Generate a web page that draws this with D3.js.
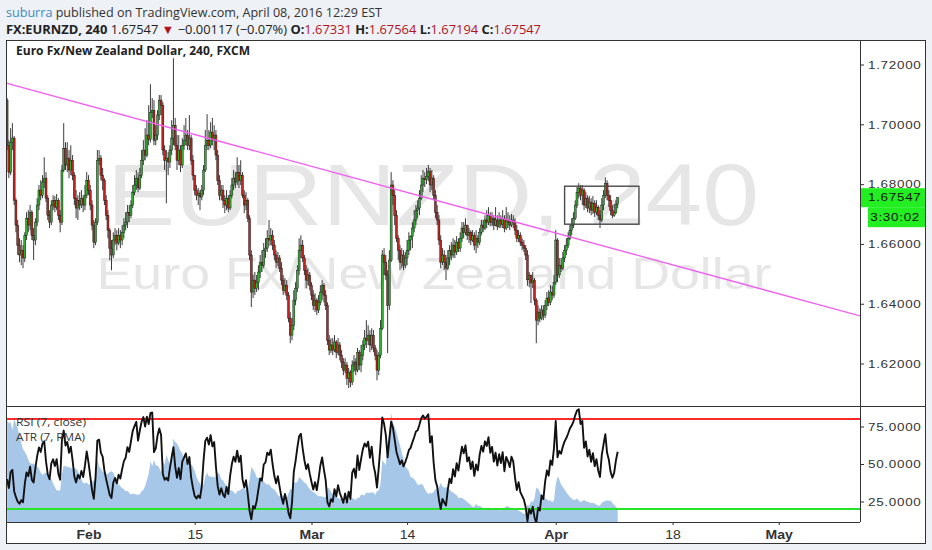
<!DOCTYPE html>
<html><head><meta charset="utf-8">
<script src="https://d3js.org/d3.v7.min.js"></script>
<style>
html,body{margin:0;padding:0;background:#eef1f5;overflow:hidden}
svg{display:block}
</style></head>
<body><svg id="chart" width="932" height="550"></svg>
<script>
// ---------------- DATA ----------------
const headerLine1 = [["suburra","#3a8cc4"],[" published on TradingView.com, April 08, 2016 12:29 EST","#333"]];
const headerLine2 = [["FX:EURNZD, 240","#222",true],[" 1.67547 ","#222"],["\u25BC","#b3141c"],[" \u22120.00117 (\u22120.07%) ","#222"],
  ["O:","#222",true],["1.67331","#b3141c"],[" H:","#222",true],["1.67564","#b3141c"],[" L:","#222",true],["1.67194","#b3141c"],[" C:","#222",true],["1.67547","#b3141c"]];
const chartTitle = "Euro Fx/New Zealand Dollar, 240, FXCM";
const watermark1 = "EURNZD, 240";
const watermark2 = "Euro Fx/New Zealand Dollar";
const legendRSI = "RSI (7, close)";
const legendATR = "ATR (7, RMA)";

const startDate = "2016-01-20";   // first trading day in view
const barsPerDay = 6;             // 240-minute bars
const firstBar = 2;               // data begins with the 3rd bar of the first day
const firstOpen = 1.7081;

const closes = [
1.6930,1.6840,1.6940,1.6954,
1.6746,1.6663,1.6596,1.6563,1.6579,1.6553,
1.6629,1.6686,1.6663,1.6706,1.6629,1.6613,
1.6673,1.6730,1.6780,1.6763,1.6807,1.6820,
1.6753,1.6696,1.6673,1.6730,1.6746,1.6723,
1.6746,1.6696,1.6673,1.6847,1.6920,1.6864,
1.6887,1.6847,1.6880,1.6830,1.6753,1.6720,
1.6746,1.6730,1.6753,1.6730,1.6763,1.6813,
1.6780,1.6730,1.6663,1.6606,1.6673,1.6880,
1.6887,1.6830,1.6813,1.6746,1.6696,1.6646,
1.6586,1.6563,1.6613,1.6629,1.6603,1.6629,
1.6613,1.6639,1.6663,1.6673,1.6706,1.6696,
1.6730,1.6773,1.6797,1.6820,1.6787,1.6830,
1.6880,1.6914,1.6897,1.6964,1.6950,1.7040,
1.7047,1.6947,1.6964,1.7031,1.7081,1.7064,
1.6914,1.6880,1.6887,1.6874,1.6914,1.6954,
1.6997,1.6930,1.6880,1.6914,1.6864,1.6930,
1.6947,1.6964,1.6930,1.6954,1.6880,1.6830,
1.6780,1.6763,1.6770,1.6757,1.6780,1.6847,
1.6930,1.6947,1.6930,1.6974,1.6947,1.6964,
1.6897,1.6813,1.6763,1.6780,1.6746,1.6730,
1.6753,1.6720,1.6763,1.6797,1.6820,1.6807,
1.6840,1.6813,1.6830,1.6763,1.6730,1.6746,
1.6686,1.6563,1.6439,1.6479,1.6452,1.6472,
1.6506,1.6539,1.6529,1.6579,1.6586,1.6619,
1.6613,1.6629,1.6596,1.6563,1.6539,1.6553,
1.6519,1.6479,1.6445,1.6462,1.6429,1.6352,
1.6295,1.6328,1.6412,1.6452,1.6512,1.6579,
1.6596,1.6553,1.6512,1.6479,1.6496,1.6462,
1.6429,1.6395,1.6412,1.6379,1.6405,1.6439,
1.6462,1.6429,1.6395,1.6278,1.6245,1.6262,
1.6245,1.6272,1.6238,1.6262,1.6228,1.6205,
1.6178,1.6195,1.6151,1.6171,1.6138,1.6195,
1.6205,1.6178,1.6238,1.6195,1.6228,1.6262,
1.6285,1.6278,1.6295,1.6262,1.6295,1.6252,
1.6228,1.6178,1.6228,1.6318,1.6563,1.6539,
1.6496,1.6395,1.6546,1.6797,1.6763,1.6696,
1.6619,1.6579,1.6539,1.6563,1.6529,1.6553,
1.6579,1.6613,1.6625,1.6653,1.6680,1.6713,
1.6720,1.6753,1.6797,1.6820,1.6815,1.6825,
1.6842,1.6797,1.6820,1.6763,1.6706,1.6680,
1.6613,1.6539,1.6563,1.6539,1.6519,1.6553,
1.6579,1.6563,1.6596,1.6573,1.6606,1.6586,
1.6619,1.6653,1.6639,1.6663,1.6629,1.6639,
1.6613,1.6629,1.6596,1.6619,1.6606,1.6639,
1.6663,1.6653,1.6680,1.6673,1.6696,1.6673,
1.6686,1.6663,1.6680,1.6659,1.6680,1.6666,
1.6686,1.6653,1.6680,1.6673,1.6663,1.6680,
1.6673,1.6646,1.6619,1.6629,1.6606,1.6596,
1.6586,1.6563,1.6480,1.6496,1.6470,1.6479,
1.6412,1.6345,1.6372,1.6352,1.6379,1.6362,
1.6395,1.6419,1.6405,1.6439,1.6429,1.6472,
1.6613,1.6496,1.6529,1.6519,1.6553,1.6579,
1.6596,1.6619,1.6646,1.6663,1.6686,1.6730,
1.6773,1.6787,1.6763,1.6780,1.6730,1.6753,
1.6720,1.6740,1.6713,1.6736,1.6706,1.6723,
1.6696,1.6680,1.6730,1.6763,1.6803,1.6763,
1.6746,1.6713,1.6696,1.6706,1.6733,1.67547];

const highs = [
1.7088,1.6947,1.6987,1.7004,
1.6961,1.6753,1.6680,1.6619,1.6613,1.6596,
1.6639,1.6706,1.6713,1.6730,1.6713,1.6653,
1.6686,1.6753,1.6797,1.6813,1.6830,1.6890,
1.6840,1.6763,1.6713,1.6746,1.6763,1.6760,
1.6767,1.6753,1.6713,1.6864,1.7004,1.6940,
1.6940,1.6914,1.6930,1.6897,1.6840,1.6780,
1.6763,1.6773,1.6780,1.6763,1.6797,1.6840,
1.6830,1.6797,1.6746,1.6680,1.6686,1.6914,
1.6914,1.6897,1.6854,1.6820,1.6763,1.6713,
1.6653,1.6613,1.6639,1.6653,1.6646,1.6653,
1.6646,1.6663,1.6686,1.6706,1.6730,1.6730,
1.6746,1.6797,1.6830,1.6847,1.6840,1.6854,
1.6914,1.6947,1.6987,1.7014,1.7064,1.7134,
1.7088,1.7081,1.6997,1.7047,1.7098,1.7098,
1.7074,1.6930,1.6914,1.6907,1.6930,1.7014,
1.7221,1.7021,1.6964,1.6964,1.6930,1.6954,
1.6997,1.7021,1.6981,1.7031,1.6964,1.6897,
1.6830,1.6797,1.6787,1.6780,1.6797,1.6864,
1.6981,1.7034,1.6981,1.7007,1.7021,1.6997,
1.6981,1.6914,1.6830,1.6797,1.6797,1.6763,
1.6780,1.6763,1.6780,1.6820,1.6847,1.6840,
1.6890,1.6864,1.6880,1.6840,1.6780,1.6773,
1.6753,1.6696,1.6579,1.6496,1.6506,1.6496,
1.6529,1.6563,1.6579,1.6603,1.6619,1.6646,
1.6680,1.6653,1.6646,1.6613,1.6579,1.6573,
1.6563,1.6539,1.6496,1.6486,1.6479,1.6439,
1.6372,1.6352,1.6445,1.6472,1.6529,1.6619,
1.6629,1.6613,1.6563,1.6529,1.6519,1.6506,
1.6472,1.6445,1.6435,1.6419,1.6429,1.6462,
1.6479,1.6469,1.6445,1.6405,1.6295,1.6285,
1.6285,1.6295,1.6278,1.6285,1.6272,1.6245,
1.6218,1.6218,1.6205,1.6185,1.6178,1.6211,
1.6228,1.6218,1.6252,1.6245,1.6262,1.6278,
1.6312,1.6345,1.6328,1.6312,1.6318,1.6312,
1.6262,1.6245,1.6238,1.6345,1.6579,1.6586,
1.6563,1.6512,1.6579,1.6840,1.6813,1.6780,
1.6713,1.6629,1.6596,1.6586,1.6579,1.6573,
1.6613,1.6639,1.6629,1.6673,1.6713,1.6730,
1.6746,1.6780,1.6830,1.6847,1.6840,1.6854,
1.6864,1.6854,1.6847,1.6830,1.6780,1.6730,
1.6696,1.6629,1.6586,1.6579,1.6563,1.6579,
1.6596,1.6606,1.6619,1.6613,1.6626,1.6619,
1.6639,1.6673,1.6673,1.6686,1.6663,1.6653,
1.6646,1.6646,1.6639,1.6646,1.6629,1.6653,
1.6680,1.6680,1.6696,1.6713,1.6723,1.6706,
1.6706,1.6696,1.6723,1.6696,1.6706,1.6696,
1.6713,1.6696,1.6723,1.6706,1.6696,1.6700,
1.6696,1.6686,1.6663,1.6646,1.6639,1.6619,
1.6613,1.6596,1.6579,1.6506,1.6496,1.6506,
1.6486,1.6419,1.6395,1.6385,1.6395,1.6395,
1.6412,1.6439,1.6445,1.6462,1.6459,1.6496,
1.6646,1.6619,1.6553,1.6553,1.6573,1.6596,
1.6619,1.6639,1.6663,1.6686,1.6706,1.6746,
1.6793,1.6803,1.6797,1.6797,1.6787,1.6773,
1.6763,1.6760,1.6753,1.6760,1.6746,1.6746,
1.6730,1.6713,1.6753,1.6780,1.6823,1.6813,
1.6780,1.6763,1.6730,1.6733,1.6746,1.67564];

const lows = [
1.6914,1.6820,1.6830,1.6914,
1.6730,1.6639,1.6563,1.6539,1.6529,1.6519,
1.6539,1.6613,1.6639,1.6646,1.6613,1.6546,
1.6596,1.6659,1.6713,1.6746,1.6753,1.6787,
1.6740,1.6680,1.6653,1.6663,1.6713,1.6706,
1.6713,1.6680,1.6639,1.6663,1.6840,1.6847,
1.6840,1.6820,1.6830,1.6813,1.6730,1.6686,
1.6680,1.6713,1.6720,1.6706,1.6713,1.6753,
1.6763,1.6713,1.6646,1.6586,1.6596,1.6663,
1.6864,1.6813,1.6780,1.6730,1.6680,1.6619,
1.6546,1.6512,1.6553,1.6596,1.6579,1.6596,
1.6586,1.6596,1.6619,1.6646,1.6653,1.6673,
1.6686,1.6720,1.6763,1.6780,1.6773,1.6780,
1.6820,1.6864,1.6880,1.6890,1.6930,1.6940,
1.7021,1.6930,1.6930,1.6947,1.7014,1.7031,
1.6897,1.6847,1.6736,1.6830,1.6854,1.6897,
1.6930,1.6914,1.6847,1.6864,1.6840,1.6854,
1.6914,1.6930,1.6914,1.6914,1.6864,1.6813,
1.6763,1.6746,1.6730,1.6713,1.6746,1.6763,
1.6840,1.6914,1.6914,1.6920,1.6930,1.6914,
1.6880,1.6797,1.6746,1.6746,1.6720,1.6703,
1.6713,1.6706,1.6713,1.6753,1.6780,1.6787,
1.6797,1.6787,1.6797,1.6753,1.6703,1.6713,
1.6673,1.6546,1.6389,1.6419,1.6429,1.6439,
1.6445,1.6486,1.6506,1.6519,1.6553,1.6573,
1.6593,1.6596,1.6579,1.6546,1.6519,1.6526,
1.6506,1.6462,1.6429,1.6435,1.6412,1.6338,
1.6268,1.6278,1.6312,1.6395,1.6439,1.6496,
1.6553,1.6539,1.6496,1.6452,1.6462,1.6445,
1.6412,1.6379,1.6372,1.6362,1.6369,1.6395,
1.6412,1.6405,1.6379,1.6262,1.6228,1.6235,
1.6228,1.6238,1.6218,1.6228,1.6211,1.6185,
1.6161,1.6168,1.6128,1.6118,1.6121,1.6128,
1.6171,1.6161,1.6171,1.6178,1.6171,1.6211,
1.6245,1.6252,1.6262,1.6238,1.6245,1.6238,
1.6211,1.6144,1.6161,1.6218,1.6312,1.6496,
1.6479,1.6235,1.6379,1.6539,1.6730,1.6663,
1.6606,1.6546,1.6512,1.6519,1.6512,1.6519,
1.6529,1.6563,1.6579,1.6586,1.6639,1.6663,
1.6686,1.6696,1.6746,1.6773,1.6790,1.6800,
1.6810,1.6773,1.6780,1.6746,1.6686,1.6663,
1.6596,1.6519,1.6529,1.6512,1.6479,1.6512,
1.6529,1.6546,1.6553,1.6553,1.6563,1.6573,
1.6573,1.6606,1.6619,1.6629,1.6613,1.6603,
1.6596,1.6606,1.6579,1.6569,1.6586,1.6596,
1.6629,1.6639,1.6646,1.6653,1.6663,1.6659,
1.6659,1.6646,1.6659,1.6646,1.6653,1.6653,
1.6653,1.6639,1.6646,1.6653,1.6646,1.6656,
1.6653,1.6629,1.6606,1.6606,1.6593,1.6579,
1.6573,1.6546,1.6460,1.6455,1.6402,1.6452,
1.6395,1.6268,1.6328,1.6338,1.6345,1.6345,
1.6352,1.6379,1.6392,1.6395,1.6412,1.6419,
1.6462,1.6472,1.6486,1.6506,1.6512,1.6539,
1.6563,1.6586,1.6613,1.6629,1.6653,1.6680,
1.6720,1.6753,1.6746,1.6730,1.6713,1.6720,
1.6706,1.6703,1.6696,1.6700,1.6690,1.6696,
1.6680,1.6653,1.6673,1.6713,1.6753,1.6746,
1.6723,1.6696,1.6686,1.6690,1.6700,1.67194];

const lastPrice = 1.67547;
const countdown = "3:30:02";
const priceTicks = [1.62, 1.64, 1.66, 1.68, 1.70, 1.72];
const rsiTicks = [25, 50, 75];
const rsiLevels = [[80, "#ff2b2b"], [20, "#27e427"]];
const timeTicks = [["2016-02-01","Feb",true],["2016-02-15","15",false],["2016-03-01","Mar",true],["2016-03-14","14",false],
                   ["2016-04-01","Apr",true],["2016-04-18","18",false],["2016-05-02","May",true]];
const trendLine = [[2, 1.7137], [484, 1.6359]];            // [bar, price]
const rangeBox = {bar0: 317, bar1: 359, top: 1.6793, bottom: 1.6666};
const rsiLength = 7, atrLength = 7;
const rsiSeed = {gain: 0.0040, loss: 0.0035};   // indicator state carried in from earlier history
const atrSeed = 0.0150;

// ---------------- LAYOUT ----------------
const L = {x0: 6, y0: 40, x1: 926, y1: 544, ax: 860, split: 406, rb: 522};
const xDomain = [1.39, 483.9];
const priceDomain = [1.6058, 1.7282];
const rsiDomain = [11.33, 88.67];
const SX = 1.17;   // horizontal text stretch of the snapshot
const AX = "'Liberation Sans', Arial, sans-serif";
const UI = "'Open Sans', 'Noto Sans', sans-serif";

const svg = d3.select("#chart");
svg.append("rect").attr("width", 932).attr("height", 550).attr("fill", "#eef1f5");
svg.append("rect").attr("x", L.x0).attr("y", L.y0).attr("width", L.x1 - L.x0).attr("height", L.y1 - L.y0).attr("fill", "#fff");

const defs = svg.append("defs");
defs.append("clipPath").attr("id", "clipP").append("rect").attr("x", L.x0).attr("y", L.y0).attr("width", L.ax - L.x0).attr("height", L.split - L.y0);
defs.append("clipPath").attr("id", "clipR").append("rect").attr("x", L.x0).attr("y", L.split).attr("width", L.ax - L.x0).attr("height", L.rb - L.split);

const x = d3.scaleLinear().domain(xDomain).range([L.x0, L.ax]);
const y = d3.scaleLinear().domain(priceDomain).range([L.split, L.y0]);
const yr = d3.scaleLinear().domain(rsiDomain).range([L.rb, L.split]);

function barOfDate(s) {
  const a = new Date(startDate + "T00:00:00Z").getTime(), b = new Date(s + "T00:00:00Z").getTime();
  let n = 0;
  for (let t = a; t < b; t += 864e5) { const wd = new Date(t).getUTCDay(); if (wd !== 0 && wd !== 6) n++; }
  return n * barsPerDay;
}

const n = Math.min(closes.length, highs.length, lows.length);
const bars = d3.range(n).map(j => {
  const o = j ? closes[j - 1] : firstOpen, c = closes[j];
  return {i: j + firstBar, o, c, h: Math.max(highs[j], o, c), l: Math.min(lows[j], o, c)};
});

// ---------------- WATERMARK ----------------
const pg = svg.append("g").attr("clip-path", "url(#clipP)");
pg.append("text").attr("x", (L.x0 + L.ax) / 2).attr("y", 225).attr("text-anchor", "middle")
  .attr("font-family", AX).attr("font-size", 88).attr("fill", "#e6e6e6")
  .attr("textLength", 652).attr("lengthAdjust", "spacingAndGlyphs").text(watermark1);
pg.append("text").attr("x", (L.x0 + L.ax) / 2 + 1).attr("y", 289).attr("text-anchor", "middle")
  .attr("font-family", AX).attr("font-size", 45).attr("fill", "#e6e6e6")
  .attr("textLength", 675).attr("lengthAdjust", "spacingAndGlyphs").text(watermark2);

// ---------------- CANDLES ----------------
pg.selectAll("line.wick").data(bars).join("line").attr("class", "wick")
  .attr("x1", d => x(d.i)).attr("x2", d => x(d.i)).attr("y1", d => y(d.h)).attr("y2", d => y(d.l))
  .attr("stroke", "#262626").attr("stroke-width", 0.9);
pg.selectAll("rect.body").data(bars).join("rect").attr("class", "body")
  .attr("x", d => x(d.i) - 1).attr("width", 2)
  .attr("y", d => y(Math.max(d.o, d.c))).attr("height", d => Math.max(0.8, Math.abs(y(d.o) - y(d.c))))
  .attr("fill", d => d.c >= d.o ? "#2eb02e" : "#bb2420").attr("stroke", "#1b1b1b").attr("stroke-width", 0.45);

// trend line
pg.append("path").datum(trendLine).attr("d", d3.line().x(d => x(d[0])).y(d => y(d[1])))
  .attr("stroke", "#f25cf2").attr("stroke-width", 1.3).attr("fill", "none");
// range box
pg.append("rect").attr("x", x(rangeBox.bar0)).attr("y", y(rangeBox.top))
  .attr("width", x(rangeBox.bar1) - x(rangeBox.bar0)).attr("height", y(rangeBox.bottom) - y(rangeBox.top))
  .attr("fill", "none").attr("stroke", "#4a4a4a").attr("stroke-width", 1.4);

// title
svg.append("text").attr("x", 16).attr("y", 50).attr("dominant-baseline", "central")
  .attr("font-family", UI).attr("font-weight", "bold").attr("font-size", 11.5).attr("fill", "#222")
  .attr("textLength", 234).attr("lengthAdjust", "spacingAndGlyphs").text(chartTitle);

// ---------------- INDICATORS ----------------
let ag = rsiSeed.gain, al = rsiSeed.loss, atr = atrSeed;
const rsi = [], atrs = [];
bars.forEach(b => {
  const ch = b.c - b.o;
  ag = (ag * (rsiLength - 1) + Math.max(ch, 0)) / rsiLength;
  al = (al * (rsiLength - 1) + Math.max(-ch, 0)) / rsiLength;
  rsi.push({i: b.i, v: al === 0 ? 100 : 100 - 100 / (1 + ag / al)});
  const tr = Math.max(b.h - b.l, Math.abs(b.h - b.o), Math.abs(b.l - b.o));
  atr = (atr * (atrLength - 1) + tr) / atrLength;
  atrs.push({i: b.i, v: atr});
});
const ya = d3.scaleLinear().domain(d3.extent(atrs, d => d.v)).range([514, 413]);
const rg = svg.append("g").attr("clip-path", "url(#clipR)");
rg.append("path").datum(atrs).attr("d", d3.area().x(d => x(d.i)).y0(L.rb).y1(d => ya(d.v)))
  .attr("fill", "#a7c7e9");
rsiLevels.forEach(([v, c]) => {
  rg.append("line").attr("x1", L.x0).attr("x2", L.ax).attr("y1", yr(v)).attr("y2", yr(v))
    .attr("stroke", c).attr("stroke-width", 2);
});
rg.append("path").datum(rsi).attr("d", d3.line().x(d => x(d.i)).y(d => yr(d.v)))
  .attr("fill", "none").attr("stroke", "#111").attr("stroke-width", 1.9).attr("stroke-linejoin", "round");
svg.append("text").attr("x", 16).attr("y", 422).attr("dominant-baseline", "central")
  .attr("font-family", UI).attr("font-size", 10.5).attr("fill", "#333")
  .attr("textLength", 70).attr("lengthAdjust", "spacingAndGlyphs").text(legendRSI);
svg.append("text").attr("x", 16).attr("y", 437).attr("dominant-baseline", "central")
  .attr("font-family", UI).attr("font-size", 10.5).attr("fill", "#333")
  .attr("textLength", 69).attr("lengthAdjust", "spacingAndGlyphs").text(legendATR);

// ---------------- AXES ----------------
function styleAxis(g) {
  g.select(".domain").remove();
  g.selectAll(".tick line").attr("stroke", "#333");
  g.selectAll(".tick text").attr("font-family", AX).attr("fill", "#333");
}
const pAxis = svg.append("g").attr("transform", `translate(${L.ax},0)`)
  .call(d3.axisRight(y).tickValues(priceTicks).tickSize(4).tickPadding(4).tickFormat(d3.format(".5f")));
styleAxis(pAxis);
pAxis.selectAll(".tick text").attr("font-size", 11.5).attr("letter-spacing", 0.6)
  .attr("x", 8 / SX).attr("transform", `scale(${SX},1)`);

const rAxis = svg.append("g").attr("transform", `translate(${L.ax},0)`)
  .call(d3.axisRight(yr).tickValues(rsiTicks).tickSize(4).tickPadding(4).tickFormat(d3.format(".4f")));
styleAxis(rAxis);
rAxis.selectAll(".tick text").attr("font-size", 11.5).attr("letter-spacing", 0.6)
  .attr("x", 8 / SX).attr("transform", `scale(${SX},1)`);

const tAxis = svg.append("g").attr("transform", `translate(0,${L.rb})`)
  .call(d3.axisBottom(x).tickValues(timeTicks.map(t => barOfDate(t[0]))).tickSize(3).tickPadding(5)
    .tickFormat((d, k) => timeTicks[k][1]));
styleAxis(tAxis);
tAxis.selectAll(".tick text").attr("font-size", 12)
  .attr("font-weight", (d, k) => timeTicks[k][2] ? "bold" : "normal")
  .attr("transform", `scale(${SX},1)`);

// ---------------- FRAME LINES ----------------
const fr = svg.append("g").attr("stroke", "#333").attr("stroke-width", 1).attr("shape-rendering", "crispEdges");
fr.append("line").attr("x1", L.ax + 0.5).attr("x2", L.ax + 0.5).attr("y1", L.y0).attr("y2", L.rb);
fr.append("line").attr("x1", L.x0).attr("x2", L.x1).attr("y1", L.split + 0.5).attr("y2", L.split + 0.5);
fr.append("line").attr("x1", L.x0).attr("x2", L.ax).attr("y1", L.rb + 0.5).attr("y2", L.rb + 0.5);
fr.append("rect").attr("x", L.x0 + 0.5).attr("y", L.y0 + 0.5).attr("width", L.x1 - L.x0 - 1).attr("height", L.y1 - L.y0 - 1).attr("fill", "none");

// ---------------- LAST PRICE LABEL ----------------
const ly = y(lastPrice);
svg.append("rect").attr("x", L.ax + 1).attr("y", ly - 9.5).attr("width", L.x1 - L.ax - 2).attr("height", 19).attr("fill", "#22ee22");
svg.append("rect").attr("x", L.ax + 8).attr("y", ly + 9.5).attr("width", L.x1 - L.ax - 9).attr("height", 20).attr("fill", "#22ee22");
const lg1 = svg.append("g").attr("transform", `translate(${L.ax + 8},${ly}) scale(${SX},1)`);
lg1.append("text").attr("dominant-baseline", "central").attr("font-family", AX).attr("font-size", 11.5)
  .attr("letter-spacing", 0.6).attr("fill", "#111").text(d3.format(".5f")(lastPrice));
const lg2 = svg.append("g").attr("transform", `translate(${L.x1 - 6},${ly + 19.5}) scale(${SX},1)`);
lg2.append("text").attr("dominant-baseline", "central").attr("text-anchor", "end").attr("font-family", AX).attr("font-size", 11.5)
  .attr("letter-spacing", 0.6).attr("fill", "#111").text(countdown);

// ---------------- HEADER ----------------
const h1 = svg.append("text").attr("x", 6).attr("y", 12).attr("dominant-baseline", "central")
  .attr("font-family", UI).attr("font-size", 12.5).attr("textLength", 376).attr("lengthAdjust", "spacingAndGlyphs");
headerLine1.forEach(([t, c]) => h1.append("tspan").attr("fill", c).text(t));
const h2 = svg.append("text").attr("x", 6).attr("y", 28.5).attr("dominant-baseline", "central")
  .attr("font-family", UI).attr("font-size", 12.5).attr("textLength", 535).attr("lengthAdjust", "spacingAndGlyphs");
headerLine2.forEach(([t, c, b]) => h2.append("tspan").attr("fill", c).attr("font-weight", b ? "bold" : "normal").text(t));
</script>
</body></html>
